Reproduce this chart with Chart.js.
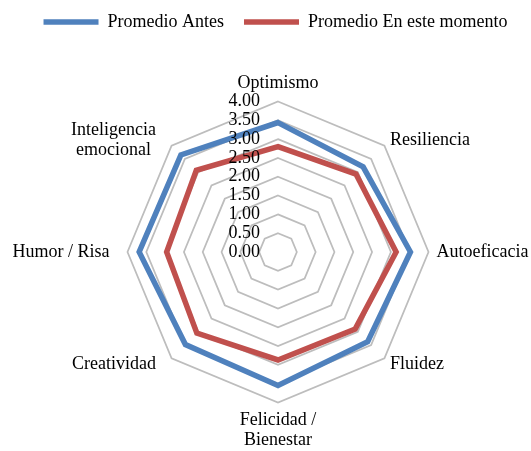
<!DOCTYPE html>
<html>
<head>
<meta charset="utf-8">
<script src="https://cdn.jsdelivr.net/npm/chart.js@4/dist/chart.umd.min.js"></script>
<style>
  html, body { margin: 0; padding: 0; background: #fff; }
  #contenedor { width: 531px; height: 451px; }
</style>
</head>
<body>
<div id="contenedor"><canvas id="radar"></canvas></div>
<script>
var categorias = ['Optimismo', 'Resiliencia', 'Autoeficacia', 'Fluidez', ['Felicidad /', 'Bienestar'], 'Creatividad', 'Humor / Risa', ['Inteligencia', 'emocional']];
var promedioAntes = [3.44, 3.20, 3.52, 3.37, 3.55, 3.48, 3.69, 3.65];
var promedioAhora = [2.80, 2.93, 3.14, 2.90, 2.87, 3.05, 2.96, 3.07];
var escalaMin = 0;
var escalaMax = 4;
var escalaPaso = 0.5;

var fuente = "'Liberation Serif', 'Times New Roman', serif";
Chart.defaults.font.family = fuente;
Chart.defaults.font.size = 18;
Chart.defaults.color = '#000';

// etiquetas del eje como en Excel: a la izquierda del eje vertical, encima de las lineas
var etiquetasEscala = {
  id: 'etiquetasEscala',
  afterDatasetsDraw: function(chart) {
    var r = chart.scales.r;
    var ctx = chart.ctx;
    ctx.save();
    ctx.font = '18px ' + fuente;
    ctx.fillStyle = '#000';
    ctx.textAlign = 'right';
    ctx.textBaseline = 'middle';
    r.ticks.forEach(function(t) {
      var d = r.getDistanceFromCenterForValue(t.value);
      ctx.fillText(t.value.toFixed(2), r.xCenter - 18, r.yCenter - d);
    });
    ctx.restore();
  }
};

// nombres de las categorias junto a cada vertice del octogono exterior
var etiquetasCategorias = {
  id: 'etiquetasCategorias',
  afterDatasetsDraw: function(chart) {
    var r = chart.scales.r;
    var ctx = chart.ctx;
    var alto = 20;
    ctx.save();
    ctx.font = '18px ' + fuente;
    ctx.fillStyle = '#000';
    ctx.textAlign = 'center';
    ctx.textBaseline = 'middle';
    categorias.forEach(function(etq, i) {
      var lineas = [].concat(etq);
      var ang = r.getIndexAngle(i);
      var s = Math.sin(ang), c = Math.cos(ang);
      var p = r.getPointPosition(i, r.drawingArea + 8);
      var ancho = Math.max.apply(null, lineas.map(function(l) { return ctx.measureText(l).width; }));
      var total = lineas.length * alto;
      var x = p.x;
      if (s > 0.1) x = p.x + ancho / 2;
      else if (s < -0.1) x = p.x - 10 - ancho / 2;
      var arriba;
      if (Math.abs(s) <= 0.1) arriba = c > 0 ? p.y - total : p.y;
      else arriba = p.y - total / 2;
      lineas.forEach(function(l, k) {
        ctx.fillText(l, x, arriba + alto / 2 + k * alto);
      });
    });
    ctx.restore();
  }
};

var ctx = document.getElementById('radar').getContext('2d');
var grafico = new Chart(ctx, {
  type: 'radar',
  data: {
    labels: categorias,
    datasets: [
      {
        label: 'Promedio Antes',
        data: promedioAntes,
        borderColor: '#4F81BD',
        backgroundColor: '#4F81BD',
        borderWidth: 5.5,
        borderJoinStyle: 'miter',
        borderCapStyle: 'round',
        pointRadius: 0,
        fill: false
      },
      {
        label: 'Promedio En este momento',
        data: promedioAhora,
        borderColor: '#C0504D',
        backgroundColor: '#C0504D',
        borderWidth: 5.5,
        borderJoinStyle: 'miter',
        borderCapStyle: 'round',
        pointRadius: 0,
        fill: false
      }
    ]
  },
  options: {
    responsive: true,
    maintainAspectRatio: false,
    animation: false,
    layout: { padding: { top: -7, bottom: 0, left: 20, right: 0 } },
    plugins: {
      legend: {
        position: 'top',
        labels: {
          usePointStyle: true,
          pointStyle: 'line',
          pointStyleWidth: 55,
          padding: 20,
          font: { size: 18 }
        }
      },
      tooltip: { enabled: false }
    },
    scales: {
      r: {
        min: escalaMin,
        max: escalaMax,
        ticks: { stepSize: escalaPaso, display: false },
        angleLines: { display: false },
        grid: { color: '#BDBDBD', lineWidth: 1.75 },
        pointLabels: { display: false },
        // centro y radio del octogono como en el original
        afterFit: function(s) {
          s.xCenter = 278;
          s.yCenter = 252;
          s.drawingArea = 150.5;
        }
      }
    }
  },
  plugins: [etiquetasEscala, etiquetasCategorias]
});
</script>
</body>
</html>
